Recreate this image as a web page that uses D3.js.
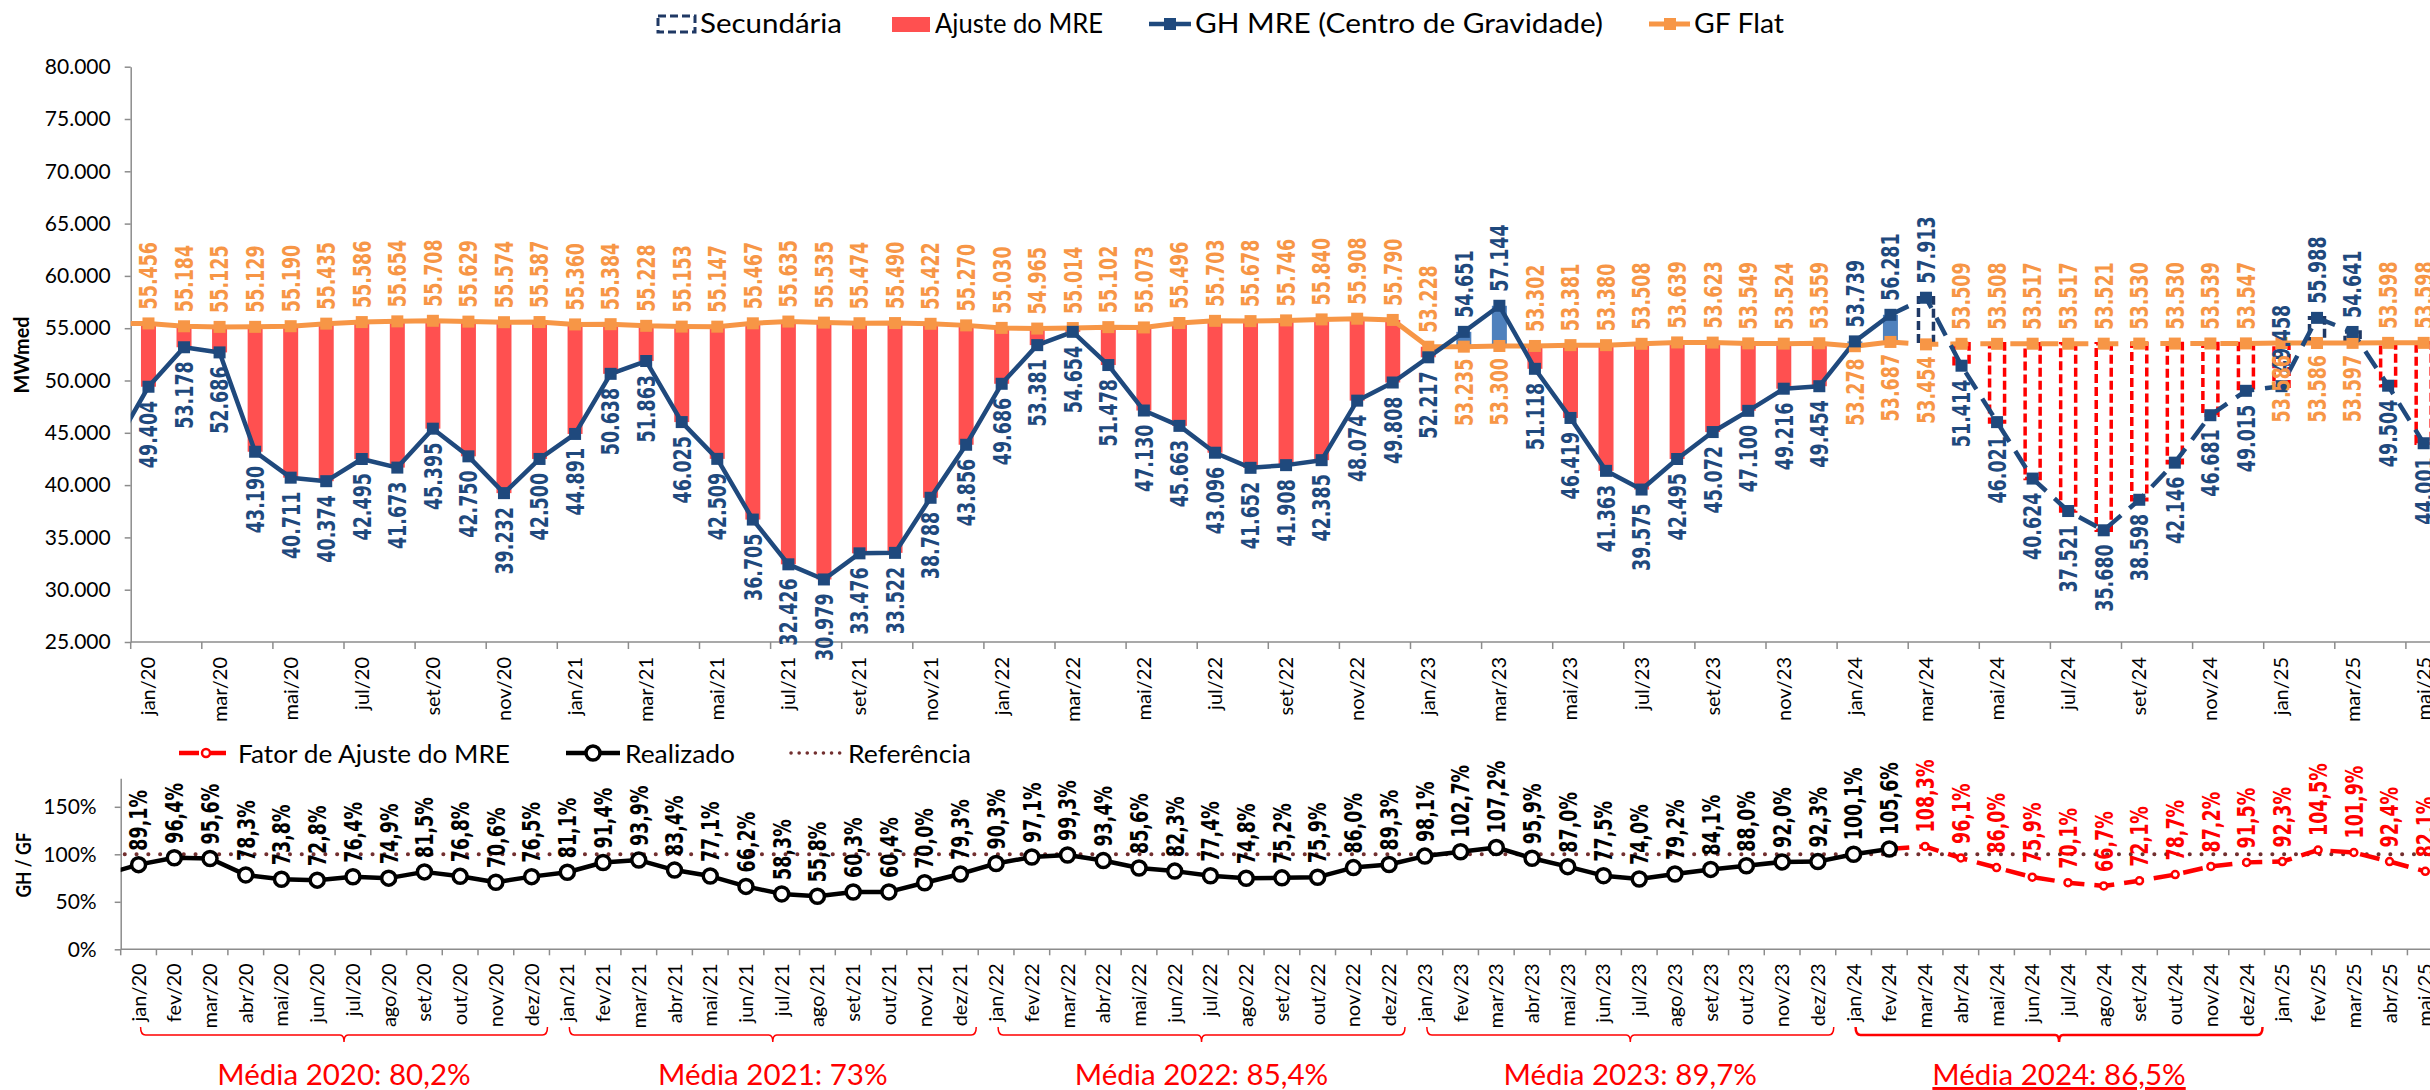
<!DOCTYPE html>
<html>
<head>
<meta charset="utf-8">
<script src="https://cdn.jsdelivr.net/npm/d3@7"></script>
<style>
  html, body { margin: 0; padding: 0; background: #fff; overflow: hidden; }
  svg { display: block; }
</style>
</head>
<body>
<svg id="chart" width="2430" height="1090"></svg>
<script>
// ---------- data ----------
const months = [
  "jan/20","fev/20","mar/20","abr/20","mai/20","jun/20","jul/20","ago/20","set/20","out/20","nov/20","dez/20",
  "jan/21","fev/21","mar/21","abr/21","mai/21","jun/21","jul/21","ago/21","set/21","out/21","nov/21","dez/21",
  "jan/22","fev/22","mar/22","abr/22","mai/22","jun/22","jul/22","ago/22","set/22","out/22","nov/22","dez/22",
  "jan/23","fev/23","mar/23","abr/23","mai/23","jun/23","jul/23","ago/23","set/23","out/23","nov/23","dez/23",
  "jan/24","fev/24","mar/24","abr/24","mai/24","jun/24","jul/24","ago/24","set/24","out/24","nov/24","dez/24",
  "jan/25","fev/25","mar/25","abr/25","mai/25"
];

// Garantia física flat (MWmed)
const gfFlat = [
  55456, 55184, 55125, 55129, 55190, 55435, 55586, 55654, 55708, 55629, 55574, 55587,
  55360, 55384, 55228, 55153, 55147, 55467, 55635, 55535, 55474, 55490, 55422, 55270,
  55030, 54965, 55014, 55102, 55073, 55496, 55703, 55678, 55746, 55840, 55908, 55790,
  53228, 53235, 53300, 53302, 53381, 53380, 53508, 53639, 53623, 53549, 53524, 53559,
  53278, 53687, 53454, 53509, 53508, 53517, 53517, 53521, 53530, 53530, 53539, 53547,
  53586, 53586, 53597, 53598, 53598
];

// Geração hidráulica do MRE, centro de gravidade (MWmed)
const ghMre = [
  49404, 53178, 52686, 43190, 40711, 40374, 42495, 41673, 45395, 42750, 39232, 42500,
  44891, 50638, 51863, 46025, 42509, 36705, 32426, 30979, 33476, 33522, 38788, 43856,
  49686, 53381, 54654, 51478, 47130, 45663, 43096, 41652, 41908, 42385, 48074, 49808,
  52217, 54651, 57144, 51118, 46419, 41363, 39575, 42495, 45072, 47100, 49216, 49454,
  53739, 56281, 57913, 51414, 46021, 40624, 37521, 35680, 38598, 42146, 46681, 49015,
  49458, 55988, 54641, 49504, 44001
];

// month before the first category (line enters from the left edge)
const gfDez19 = 55450;
const ghDez19 = 43440;
const realizadoDez19 = 78.3;

// GH / GF (%)
const realizado = [
  89.1, 96.4, 95.6, 78.3, 73.8, 72.8, 76.4, 74.9, 81.5, 76.8, 70.6, 76.5,
  81.1, 91.4, 93.9, 83.4, 77.1, 66.2, 58.3, 55.8, 60.3, 60.4, 70.0, 79.3,
  90.3, 97.1, 99.3, 93.4, 85.6, 82.3, 77.4, 74.8, 75.2, 75.9, 86.0, 89.3,
  98.1, 102.7, 107.2, 95.9, 87.0, 77.5, 74.0, 79.2, 84.1, 88.0, 92.0, 92.3,
  100.1, 105.6
];
const fatorMonths = ["mar/24","abr/24","mai/24","jun/24","jul/24","ago/24","set/24","out/24","nov/24","dez/24","jan/25","fev/25","mar/25","abr/25","mai/25"];
const fatorAjuste = [108.3, 96.1, 86.0, 75.9, 70.1, 66.7, 72.1, 78.7, 87.2, 91.5, 92.3, 104.5, 101.9, 92.4, 82.1];

const referencia = 100;
const yTicksTop = [25000, 30000, 35000, 40000, 45000, 50000, 55000, 60000, 65000, 70000, 75000, 80000];
const yTicksBottom = [0, 50, 100, 150];

const mediaYears = ["2020", "2021", "2022", "2023", "2024"];
const mediaValues = ["80,2%", "73%", "85,4%", "89,7%", "86,5%"];

// first month of the projected (secondary) part of the series
const firstProjected = "mar/24";
// months whose GH / GF labels swap sides
const swappedLabels = ["jan/25"];

// ---------- setup ----------
const locale = d3.formatLocale({ decimal: ",", thousands: ".", grouping: [3], currency: ["R$", ""] });
const fmtMW = locale.format(",.0f");
const fmtPct = v => locale.format(".1f")(v) + "%";

const C = {
  red: "#FF5050", redLine: "#FF0000", blue: "#4F81BD", navy: "#1F497D", navyDash: "#1F3864",
  orange: "#F79646", axis: "#8C8C8C", ref: "#722F2F"
};
const LABEL_FONT = "bold 17.5px Verdana, 'DejaVu Sans', sans-serif";
const SX = 1.4;

const svg = d3.select("#chart");
const projIdx = months.indexOf(firstProjected);
const lastReal = projIdx - 1;

// ---------- top chart scales ----------
const TOP_LEFT = 130.7, TOP_STEP = 35.55, TOP_Y0 = 642, TOP_Y1 = 66.7;
const xTop = d3.scaleBand().domain(months).range([TOP_LEFT, TOP_LEFT + months.length * TOP_STEP]);
const yTop = d3.scaleLinear().domain([25000, 80000]).range([TOP_Y0, TOP_Y1]);
const cxTop = m => xTop(m) + xTop.bandwidth() / 2;

const defs = svg.append("defs");
defs.append("clipPath").attr("id", "clipTop").append("rect")
  .attr("x", TOP_LEFT).attr("y", 0).attr("width", 2430).attr("height", TOP_Y0 + 2);

// ---------- bottom chart scales ----------
const BOT_LEFT = 120.7, BOT_STEP = 35.73, BOT_Y0 = 949.3;
const xBot = d3.scaleBand().domain(months).range([BOT_LEFT, BOT_LEFT + months.length * BOT_STEP]);
const yBot = d3.scaleLinear().domain([0, 180]).range([BOT_Y0, BOT_Y0 - 180 / 50 * 47.5]);
const cxBot = m => xBot(m) + xBot.bandwidth() / 2;

defs.append("clipPath").attr("id", "clipBot").append("rect")
  .attr("x", BOT_LEFT).attr("y", 700).attr("width", 2430).attr("height", 260);

// rotated data label helper
function vLabel(g, x, y, anchor, txt, color, font) {
  g.append("text")
    .attr("transform", `translate(${x},${y}) scale(${SX},1) rotate(-90)`)
    .attr("dy", "0.36em")
    .attr("text-anchor", anchor)
    .style("font", font || LABEL_FONT)
    .attr("fill", color)
    .text(txt);
}

// ---------- top legend ----------
const legTop = svg.append("g").style("font", "26px Lato, sans-serif");
legTop.append("rect").attr("x", 658).attr("y", 16).attr("width", 37).attr("height", 16)
  .attr("fill", "#fff").attr("stroke", C.navyDash).attr("stroke-width", 3).attr("stroke-dasharray", "8,4");
legTop.append("text").attr("x", 700).attr("y", 33).attr("textLength", 142).attr("lengthAdjust", "spacingAndGlyphs").text("Secundária");
legTop.append("rect").attr("x", 892).attr("y", 17).attr("width", 38).attr("height", 15).attr("fill", C.red);
legTop.append("text").attr("x", 935).attr("y", 33).attr("textLength", 168).attr("lengthAdjust", "spacingAndGlyphs").text("Ajuste do MRE");
legTop.append("line").attr("x1", 1149).attr("x2", 1191).attr("y1", 24).attr("y2", 24).attr("stroke", C.navy).attr("stroke-width", 4.5);
legTop.append("rect").attr("x", 1164).attr("y", 18).attr("width", 12).attr("height", 12).attr("fill", C.navy);
legTop.append("text").attr("x", 1195).attr("y", 33).attr("textLength", 408).attr("lengthAdjust", "spacingAndGlyphs").text("GH MRE (Centro de Gravidade)");
legTop.append("line").attr("x1", 1649).attr("x2", 1690).attr("y1", 24).attr("y2", 24).attr("stroke", C.orange).attr("stroke-width", 5);
legTop.append("rect").attr("x", 1664).attr("y", 18).attr("width", 12).attr("height", 12).attr("fill", C.orange);
legTop.append("text").attr("x", 1694).attr("y", 33).attr("textLength", 90).attr("lengthAdjust", "spacingAndGlyphs").text("GF Flat");

// ---------- top axes ----------
const yAxisTop = svg.append("g").attr("transform", `translate(${TOP_LEFT},0)`)
  .call(d3.axisLeft(yTop).tickValues(yTicksTop).tickSize(6).tickSizeOuter(0).tickPadding(14).tickFormat(fmtMW));
yAxisTop.select(".domain").attr("stroke", C.axis).attr("stroke-width", 1.5);
yAxisTop.selectAll(".tick line").attr("stroke", C.axis).attr("stroke-width", 1.5);
yAxisTop.selectAll(".tick text").style("font", "21px Lato, sans-serif").attr("fill", "#000");

svg.append("line").attr("x1", TOP_LEFT).attr("x2", xTop.range()[1]).attr("y1", TOP_Y0).attr("y2", TOP_Y0)
  .attr("stroke", C.axis).attr("stroke-width", 1.5);
svg.append("g").selectAll("line").data(months.filter((d, i) => i % 2 === 0)).join("line")
  .attr("x1", d => xTop(d)).attr("x2", d => xTop(d)).attr("y1", TOP_Y0).attr("y2", TOP_Y0 + 7)
  .attr("stroke", C.axis).attr("stroke-width", 1.5);

const xAxisTop = svg.append("g").attr("transform", `translate(0,${TOP_Y0})`)
  .call(d3.axisBottom(xTop).tickValues(months.filter((d, i) => i % 2 === 0)).tickSize(0));
xAxisTop.select(".domain").remove();
xAxisTop.selectAll(".tick text")
  .attr("transform", "rotate(-90)").attr("x", -15).attr("y", 0).attr("dy", "0.35em")
  .attr("text-anchor", "end").style("font", "20px Lato, sans-serif").attr("fill", "#000");

svg.append("text")
  .attr("transform", "translate(22,355) rotate(-90)")
  .attr("text-anchor", "middle").attr("dy", "0.35em")
  .attr("textLength", 77).attr("lengthAdjust", "spacingAndGlyphs")
  .style("font", "bold 20px Lato, sans-serif").text("MWmed");

// ---------- top bars ----------
const BAR_W = 15;
const bars = svg.append("g");
months.forEach((m, i) => {
  const gf = gfFlat[i], gh = ghMre[i];
  const x0 = cxTop(m) - BAR_W / 2;
  const yA = yTop(Math.max(gf, gh)), yB = yTop(Math.min(gf, gh));
  const below = gh < gf;
  if (i < projIdx) {
    bars.append("rect").attr("x", x0).attr("y", yA).attr("width", BAR_W).attr("height", yB - yA)
      .attr("fill", below ? C.red : C.blue);
  } else {
    bars.append("rect").attr("x", x0).attr("y", yA).attr("width", BAR_W).attr("height", yB - yA)
      .attr("fill", "none").attr("stroke", below ? C.redLine : C.navyDash)
      .attr("stroke-width", 3.5).attr("stroke-dasharray", "9,4");
  }
});

// ---------- top lines ----------
const lineTop = d3.line().x(d => d.x).y(d => yTop(d.v));
const gfPts = months.map((m, i) => ({ x: cxTop(m), v: gfFlat[i] }));
const ghPts = months.map((m, i) => ({ x: cxTop(m), v: ghMre[i] }));
const firstX = cxTop(months[0]) - TOP_STEP;
const dez24 = months.indexOf("dez/24");

const linesTop = svg.append("g").attr("clip-path", "url(#clipTop)");
linesTop.append("path").datum([{ x: firstX, v: gfDez19 }, ...gfPts.slice(0, lastReal + 1)])
  .attr("d", lineTop).attr("fill", "none").attr("stroke", C.orange).attr("stroke-width", 5);
linesTop.append("path").datum(gfPts.slice(lastReal, dez24 + 1))
  .attr("d", lineTop).attr("fill", "none").attr("stroke", C.orange).attr("stroke-width", 5)
  .attr("stroke-dasharray", "18,12");
linesTop.append("path").datum(gfPts.slice(dez24))
  .attr("d", lineTop).attr("fill", "none").attr("stroke", C.orange).attr("stroke-width", 5);

linesTop.append("path").datum([{ x: firstX, v: ghDez19 }, ...ghPts.slice(0, lastReal + 1)])
  .attr("d", lineTop).attr("fill", "none").attr("stroke", C.navy).attr("stroke-width", 4.5)
  .attr("stroke-linejoin", "round");
linesTop.append("path").datum(ghPts.slice(lastReal))
  .attr("d", lineTop).attr("fill", "none").attr("stroke", C.navy).attr("stroke-width", 4.5)
  .attr("stroke-dasharray", "20,11");

const mk = svg.append("g");
mk.selectAll(".gfm").data(gfPts).join("rect").attr("class", "gfm")
  .attr("x", d => d.x - 6).attr("y", d => yTop(d.v) - 6).attr("width", 12).attr("height", 12).attr("fill", C.orange);
mk.selectAll(".ghm").data(ghPts).join("rect").attr("class", "ghm")
  .attr("x", d => d.x - 6).attr("y", d => yTop(d.v) - 6).attr("width", 12).attr("height", 12).attr("fill", C.navy);

// ---------- top labels ----------
const labTop = svg.append("g");
months.forEach((m, i) => {
  const gf = gfFlat[i], gh = ghMre[i], x = cxTop(m);
  let ghAbove = gh > gf;
  if (swappedLabels.includes(m)) ghAbove = !ghAbove;
  if (ghAbove) {
    vLabel(labTop, x, yTop(gh) - 14, "start", fmtMW(gh), C.navy);
    vLabel(labTop, x, yTop(gf) + 12, "end", fmtMW(gf), C.orange);
  } else {
    vLabel(labTop, x, yTop(gf) - 14, "start", fmtMW(gf), C.orange);
    vLabel(labTop, x, yTop(gh) + 14, "end", fmtMW(gh), C.navy);
  }
});

// ---------- bottom legend ----------
const legBot = svg.append("g").style("font", "25px Lato, sans-serif");
legBot.append("line").attr("x1", 179).attr("x2", 233).attr("y1", 753).attr("y2", 753)
  .attr("stroke", C.redLine).attr("stroke-width", 4.5).attr("stroke-dasharray", "20,7");
legBot.append("circle").attr("cx", 206).attr("cy", 753).attr("r", 4).attr("fill", "#fff").attr("stroke", C.redLine).attr("stroke-width", 2.5);
legBot.append("text").attr("x", 238).attr("y", 763).attr("textLength", 272).attr("lengthAdjust", "spacingAndGlyphs").text("Fator de Ajuste do MRE");
legBot.append("line").attr("x1", 566).attr("x2", 620).attr("y1", 753).attr("y2", 753).attr("stroke", "#000").attr("stroke-width", 4.5);
legBot.append("circle").attr("cx", 593).attr("cy", 753).attr("r", 7).attr("fill", "#fff").attr("stroke", "#000").attr("stroke-width", 3.5);
legBot.append("text").attr("x", 625).attr("y", 763).attr("textLength", 110).attr("lengthAdjust", "spacingAndGlyphs").text("Realizado");
legBot.append("line").attr("x1", 791).attr("x2", 841).attr("y1", 753).attr("y2", 753)
  .attr("stroke", C.ref).attr("stroke-width", 3.5).attr("stroke-linecap", "round").attr("stroke-dasharray", "0.1,8");
legBot.append("text").attr("x", 848).attr("y", 763).attr("textLength", 123).attr("lengthAdjust", "spacingAndGlyphs").text("Referência");

// ---------- bottom axes ----------
const yAxisBot = svg.append("g").attr("transform", `translate(${BOT_LEFT},0)`)
  .call(d3.axisLeft(yBot).tickValues(yTicksBottom).tickSize(6).tickSizeOuter(0).tickPadding(18).tickFormat(d => d + "%"));
yAxisBot.select(".domain").attr("stroke", C.axis).attr("stroke-width", 1.5);
yAxisBot.selectAll(".tick line").attr("stroke", C.axis).attr("stroke-width", 1.5);
yAxisBot.selectAll(".tick text").style("font", "21px Lato, sans-serif").attr("fill", "#000");

svg.append("line").attr("x1", BOT_LEFT).attr("x2", xBot.range()[1]).attr("y1", BOT_Y0).attr("y2", BOT_Y0)
  .attr("stroke", C.axis).attr("stroke-width", 1.5);
svg.append("g").selectAll("line").data(months).join("line")
  .attr("x1", d => xBot(d)).attr("x2", d => xBot(d)).attr("y1", BOT_Y0).attr("y2", BOT_Y0 + 6)
  .attr("stroke", C.axis).attr("stroke-width", 1.5);

const xAxisBot = svg.append("g").attr("transform", `translate(0,${BOT_Y0})`)
  .call(d3.axisBottom(xBot).tickSize(0));
xAxisBot.select(".domain").remove();
xAxisBot.selectAll(".tick text")
  .attr("transform", "rotate(-90)").attr("x", -14).attr("y", 0).attr("dy", "0.35em")
  .attr("text-anchor", "end").style("font", "20px Lato, sans-serif").attr("fill", "#000");

svg.append("text")
  .attr("transform", "translate(24,865) rotate(-90)")
  .attr("text-anchor", "middle").attr("dy", "0.35em")
  .attr("textLength", 65).attr("lengthAdjust", "spacingAndGlyphs")
  .style("font", "bold 21px Lato, sans-serif").text("GH / GF");

// reference line at 100%
svg.append("line").attr("x1", BOT_LEFT + 4).attr("x2", 2430).attr("y1", yBot(referencia)).attr("y2", yBot(referencia))
  .attr("stroke", C.ref).attr("stroke-width", 4).attr("stroke-linecap", "round").attr("stroke-dasharray", "0.1,11.7");

// ---------- bottom lines ----------
const lineBot = d3.line().x(d => d.x).y(d => yBot(d.v));
const realPts = realizado.map((v, i) => ({ x: cxBot(months[i]), v }));
const fatorPts = fatorMonths.map((m, i) => ({ x: cxBot(m), v: fatorAjuste[i] }));

const linesBot = svg.append("g").attr("clip-path", "url(#clipBot)");
linesBot.append("path").datum([realPts[realPts.length - 1], ...fatorPts])
  .attr("d", lineBot).attr("fill", "none").attr("stroke", C.redLine).attr("stroke-width", 4.5)
  .attr("stroke-dasharray", "20,10");
linesBot.append("path").datum([{ x: cxBot(months[0]) - BOT_STEP, v: realizadoDez19 }, ...realPts])
  .attr("d", lineBot).attr("fill", "none").attr("stroke", "#000").attr("stroke-width", 4.5)
  .attr("stroke-linejoin", "round");

svg.append("g").selectAll("circle").data(fatorPts).join("circle")
  .attr("cx", d => d.x).attr("cy", d => yBot(d.v)).attr("r", 3.5)
  .attr("fill", "#fff").attr("stroke", C.redLine).attr("stroke-width", 2.5);
svg.append("g").selectAll("circle").data(realPts).join("circle")
  .attr("cx", d => d.x).attr("cy", d => yBot(d.v)).attr("r", 7)
  .attr("fill", "#fff").attr("stroke", "#000").attr("stroke-width", 3.5);

// ---------- bottom labels ----------
const labBot = svg.append("g");
realPts.forEach(d => vLabel(labBot, d.x, yBot(d.v) - 14, "start", fmtPct(d.v), "#000"));
fatorPts.forEach(d => vLabel(labBot, d.x, yBot(d.v) - 14, "start", fmtPct(d.v), C.redLine));

// ---------- yearly averages ----------
const notes = svg.append("g");
mediaYears.forEach((yr, k) => {
  const jan = "jan/" + yr.slice(2), dez = "dez/" + yr.slice(2);
  const x0 = cxBot(jan) + 2, x1 = xBot(dez) + xBot.bandwidth() - 2, xc = (x0 + x1) / 2;
  const yl = 1035, last = k === mediaYears.length - 1;
  notes.append("path")
    .attr("d", `M${x0},1027 Q${x0},${yl} ${x0 + 5},${yl} H${xc - 4} Q${xc},${yl} ${xc},1042 Q${xc},${yl} ${xc + 4},${yl} H${x1 - 5} Q${x1},${yl} ${x1},1027`)
    .attr("fill", "none").attr("stroke", C.redLine).attr("stroke-width", last ? 2.5 : 1.5);
  notes.append("text").attr("x", xc).attr("y", 1085).attr("text-anchor", "middle")
    .style("font", "29.5px Lato, sans-serif").attr("fill", C.redLine)
    .style("text-decoration", last ? "underline" : "none")
    .text(`Média ${yr}: ${mediaValues[k]}`);
});
</script>
</body>
</html>
